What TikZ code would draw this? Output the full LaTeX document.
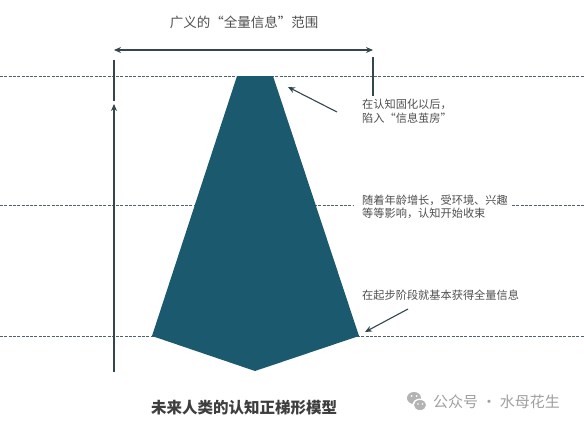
\documentclass[tikz,border=0pt]{standalone}
\usepackage{fontspec}
\setmainfont{Noto Sans CJK SC}
\usetikzlibrary{arrows.meta}
\definecolor{shapeblue}{HTML}{1B5A6E}
\definecolor{linegray}{HTML}{4F6266}
\definecolor{arrowgray}{HTML}{34474C}
\definecolor{labelgray}{HTML}{505050}
\definecolor{titlegray}{HTML}{3E3E3E}
\definecolor{wmgray}{HTML}{A0A0A0}
\begin{document}
\begin{tikzpicture}[x=1pt,y=-1pt,
  dashline/.style={draw=linegray, dash pattern=on 3pt off 1.3pt, line width=0.9pt},
  arr/.style={draw=arrowgray, line width=1.1pt, -{Stealth[length=7pt,width=6pt]}},
  tick/.style={draw=arrowgray, line width=1.1pt},
  lbl/.style={text=labelgray, font=\fontsize{11.2}{14}\selectfont, align=left, anchor=west, inner sep=0pt}]
\useasboundingbox[fill=white] (0,0) rectangle (584,423);
% dashed guide lines
\coordinate (d1a) at (0,76); \coordinate (d1b) at (584,76);
\coordinate (d2a) at (0,205); \coordinate (d2b) at (354,205);
\coordinate (d2c) at (512,205); \coordinate (d2d) at (584,205);
\coordinate (d3a) at (0,336); \coordinate (d3b) at (584,336);
\draw[dashline] (d1a) -- (d1b);
\draw[dashline] (d2a) -- (d2b);
\draw[dashline] (d2c) -- (d2d);
\draw[dashline] (d3a) -- (d3b);
% pentagon shape
\coordinate (tl) at (237,76); \coordinate (tr) at (273,76);
\coordinate (br) at (359,336); \coordinate (bt) at (255,371);
\coordinate (bl) at (152,336);
\fill[shapeblue] (tl) -- (tr) -- (br) -- (bt) -- (bl) -- cycle;
% top range arrow and ticks
\coordinate (hl) at (114,50); \coordinate (hr) at (373,50);
\draw[arr, {Stealth[length=7pt,width=6pt]}-{Stealth[length=7pt,width=6pt]}] (hl) -- (hr);
\coordinate (tla) at (114,60); \coordinate (tlb) at (114,101);
\coordinate (tra) at (373,57); \coordinate (trb) at (373,96);
\draw[tick] (tla) -- (tlb);
\draw[tick] (tra) -- (trb);
% left vertical arrow
\coordinate (va) at (114,372); \coordinate (vb) at (114,104);
\draw[arr] (va) -- (vb);
% annotation arrows
\coordinate (a1s) at (337,112); \coordinate (a1e) at (288,87);
\draw[arr] (a1s) -- (a1e);
\coordinate (a3s) at (408,309); \coordinate (a3e) at (365,332);
\draw[arr] (a3s) -- (a3e);
% labels
\node[lbl] (l1) at (362,111) {在认知固化以后，\\陷入“信息茧房”};
\node[lbl, font=\fontsize{11.2}{13}\selectfont] (l2) at (362,207) {随着年龄增长，受环境、兴趣\\等等影响，认知开始收束};
\node[lbl] (l3) at (362,295) {在起步阶段就基本获得全量信息};
\node[text=labelgray, font=\fontsize{13.5}{16}\selectfont, inner sep=0pt] (top) at (244,22) {广义的“全量信息”范围};
\node[text=titlegray, font=\bfseries\fontsize{15.5}{18}\selectfont, inner sep=0pt] (bottom) at (244,408) {未来人类的认知正梯形模型};
% watermark
\node[text=wmgray, font=\fontsize{15}{18}\selectfont, anchor=west, inner sep=0pt] (wm) at (433,402) {公众号 · 水母花生};
\fill[wmgray!80] (414,398) ellipse (7pt and 6pt);
\fill[white] (420,405) ellipse (7.5pt and 6.5pt);
\fill[wmgray!80] (420,405) ellipse (6pt and 5pt);
\fill[white] (411.5,396) circle (1pt) (416.5,396) circle (1pt);
\fill[white] (418,404) circle (0.8pt) (422.5,404) circle (0.8pt);
\end{tikzpicture}
\end{document}
